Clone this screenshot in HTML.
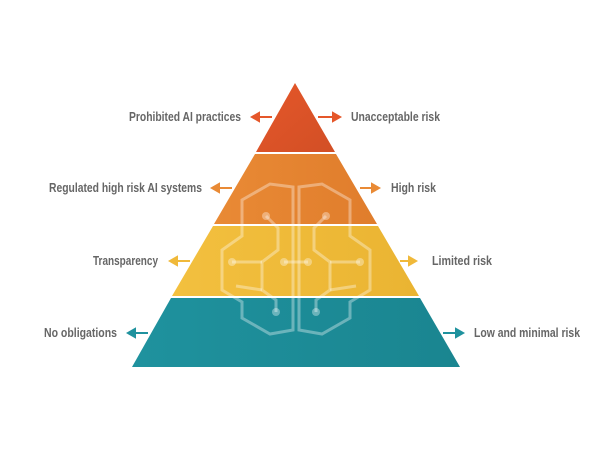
<!DOCTYPE html>
<html><head><style>
body{margin:0;background:#fff;}
svg{display:block}
text{font-family:"Liberation Sans",sans-serif;font-weight:bold;font-size:12.5px;fill:#666;}
</style></head><body>
<svg width="600" height="450" viewBox="0 0 600 450">
<defs>
<linearGradient id="r" x1="0" y1="0" x2="1" y2="1"><stop offset="0" stop-color="#e5572a"/><stop offset="1" stop-color="#d24f25"/></linearGradient>
<linearGradient id="o" x1="0" y1="0" x2="1" y2="0"><stop offset="0" stop-color="#e98a35"/><stop offset="1" stop-color="#e07d2c"/></linearGradient>
<linearGradient id="y" x1="0" y1="0" x2="1" y2="0"><stop offset="0" stop-color="#f3c03f"/><stop offset="1" stop-color="#eab432"/></linearGradient>
<linearGradient id="t" x1="0" y1="0" x2="1" y2="0"><stop offset="0" stop-color="#1f929e"/><stop offset="1" stop-color="#1a8590"/></linearGradient>
</defs>
<polygon points="295,83 335,152 256,152" fill="url(#r)"/>
<polygon points="255,154 336,154 377,224 214,224" fill="url(#o)"/>
<polygon points="213,226 378,226 419,296 172,296" fill="url(#y)"/>
<polygon points="171,298 420,298 460,367 132,367" fill="url(#t)"/>
<g fill="none" stroke="#fff" stroke-opacity="0.35" stroke-width="3">
<path d="M293,187 L270,184 L242,200 L242,236 L222,250 L222,290 L242,302 L242,318 L270,334 L293,330 Z"/>
<path d="M299,187 L322,184 L350,200 L350,236 L370,250 L370,290 L350,302 L350,318 L322,334 L299,330 Z"/>
<path d="M266,216 L278,228 L278,250 L262,262 L262,290 L276,300 L276,312"/>
<path d="M326,216 L314,228 L314,250 L330,262 L330,290 L316,300 L316,312"/>
<path d="M232,262 L262,262 M360,262 L330,262 M284,262 L308,262 M236,286 L262,290 M356,286 L330,290"/>
</g>
<g fill="#fff" fill-opacity="0.35">
<circle cx="266" cy="216" r="4"/><circle cx="326" cy="216" r="4"/><circle cx="232" cy="262" r="4"/><circle cx="360" cy="262" r="4"/>
<circle cx="284" cy="262" r="4"/><circle cx="308" cy="262" r="4"/><circle cx="276" cy="312" r="4"/><circle cx="316" cy="312" r="4"/>
</g>
<g stroke-width="2">
<g stroke="#e5572a" fill="#e5572a">
<line x1="258" y1="117" x2="272" y2="117"/><polygon points="252,117 259,113 259,121"/>
<line x1="318" y1="117" x2="334" y2="117"/><polygon points="340,117 333,113 333,121"/>
</g>
<g stroke="#e98a35" fill="#e98a35">
<line x1="218" y1="188" x2="232" y2="188"/><polygon points="212,188 219,184 219,192"/>
<line x1="360" y1="188" x2="373" y2="188"/><polygon points="379,188 372,184 372,192"/>
</g>
<g stroke="#f0b93a" fill="#f0b93a">
<line x1="176" y1="261" x2="190" y2="261"/><polygon points="170,261 177,257 177,265"/>
<line x1="400" y1="261" x2="410" y2="261"/><polygon points="416,261 409,257 409,265"/>
</g>
<g stroke="#1f929e" fill="#1f929e">
<line x1="134" y1="333" x2="148" y2="333"/><polygon points="128,333 135,329 135,337"/>
<line x1="443" y1="333" x2="457" y2="333"/><polygon points="463,333 456,329 456,337"/>
</g>
</g>
<text x="129" y="121" textLength="112" lengthAdjust="spacingAndGlyphs">Prohibited AI practices</text>
<text x="351" y="121" textLength="89" lengthAdjust="spacingAndGlyphs">Unacceptable risk</text>
<text x="49" y="192" textLength="153" lengthAdjust="spacingAndGlyphs">Regulated high risk AI systems</text>
<text x="391" y="192" textLength="45" lengthAdjust="spacingAndGlyphs">High risk</text>
<text x="93" y="265" textLength="65" lengthAdjust="spacingAndGlyphs">Transparency</text>
<text x="432" y="265" textLength="60" lengthAdjust="spacingAndGlyphs">Limited risk</text>
<text x="44" y="337" textLength="73" lengthAdjust="spacingAndGlyphs">No obligations</text>
<text x="474" y="337" textLength="106" lengthAdjust="spacingAndGlyphs">Low and minimal risk</text>
</svg>
</body></html>
